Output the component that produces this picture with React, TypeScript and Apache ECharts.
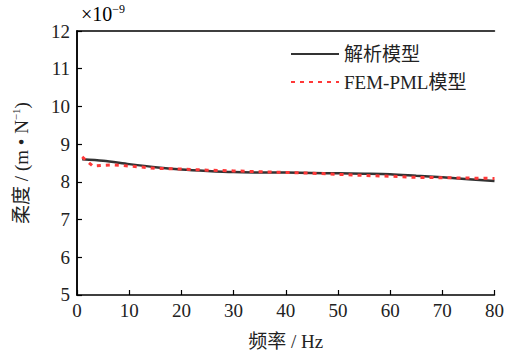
import React, { useEffect, useRef } from "react";
import * as echarts from "echarts";

const analyticX = [1, 5, 10, 15, 20, 25, 30, 35, 40, 45, 50, 55, 60, 65, 70, 75, 80];
const analyticY = [8.6, 8.56, 8.47, 8.39, 8.33, 8.29, 8.26, 8.25, 8.245, 8.235, 8.225, 8.215, 8.2, 8.16, 8.12, 8.07, 8.02];
const femX = [1, 3, 5, 7, 10, 15, 20, 25, 30, 35, 40, 45, 50, 55, 60, 65, 70, 75, 80];
const femY = [8.66, 8.42, 8.44, 8.45, 8.42, 8.36, 8.34, 8.31, 8.29, 8.27, 8.25, 8.23, 8.2, 8.17, 8.15, 8.12, 8.11, 8.1, 8.09];
const seriesNames = ["解析模型", "FEM-PML模型"];

const FONT = "Liberation Serif, Times New Roman, Noto Sans CJK SC, serif";

export default function App() {
  const ref = useRef<HTMLDivElement>(null);
  useEffect(() => {
    if (!ref.current) return;
    const chart = echarts.init(ref.current, undefined, { renderer: "svg" });
    const axisLine = { show: true, lineStyle: { color: "#000", width: 1.5 } };
    chart.setOption({
      animation: false,
      backgroundColor: "#fff",
      grid: { left: 77, right: 12, top: 31, bottom: 60, containLabel: false },
      legend: {
        orient: "vertical",
        left: 290,
        top: 44,
        padding: 0,
        itemWidth: 48,
        itemHeight: 14,
        itemGap: 8,
        data: seriesNames,
        itemStyle: { opacity: 0 },
        textStyle: { fontFamily: FONT, fontSize: 19, color: "#222", lineHeight: 20 },
      },
      graphic: [
        {
          type: "text",
          left: 81,
          top: 3,
          style: {
            text: "{a|×10}{b|−9}",
            rich: {
              a: { fontFamily: FONT, fontSize: 20, color: "#222", lineHeight: 22 },
              b: { fontFamily: FONT, fontSize: 12, color: "#222", verticalAlign: "top", lineHeight: 22 },
            },
          },
        },
      ],
      xAxis: [
        {
          type: "value",
          min: 0,
          max: 80,
          interval: 10,
          name: "频率 / Hz",
          nameLocation: "middle",
          nameGap: 37,
          nameTextStyle: { fontFamily: FONT, fontSize: 19, color: "#222" },
          axisLine,
          axisTick: { show: true, inside: true, length: 5, lineStyle: { color: "#000", width: 1.2 } },
          axisLabel: { fontFamily: FONT, fontSize: 19, color: "#222", margin: 6 },
          splitLine: { show: false },
        },
        {
          type: "value",
          position: "top",
          min: 0,
          max: 80,
          axisLine,
          axisTick: { show: false },
          axisLabel: { show: false },
          splitLine: { show: false },
        },
      ],
      yAxis: [
        {
          type: "value",
          min: 5,
          max: 12,
          interval: 1,
          name: "{n|柔度 / (m • N}{s|−1}{n|)}",
          nameLocation: "middle",
          nameRotate: 90,
          nameGap: 45,
          nameTextStyle: {
            rich: {
              n: { fontFamily: FONT, fontSize: 19, color: "#222", lineHeight: 22 },
              s: { fontFamily: FONT, fontSize: 11, color: "#222", verticalAlign: "top", lineHeight: 22 },
            },
          },
          axisLine,
          axisTick: { show: true, inside: true, length: 5, lineStyle: { color: "#000", width: 1.2 } },
          axisLabel: { fontFamily: FONT, fontSize: 19, color: "#222", margin: 7 },
          splitLine: { show: false },
        },
        {
          type: "value",
          position: "right",
          min: 5,
          max: 12,
          axisLine,
          axisTick: { show: false },
          axisLabel: { show: false },
          splitLine: { show: false },
        },
      ],
      series: [
        {
          name: seriesNames[0],
          type: "line",
          data: analyticX.map((x, i) => [x, analyticY[i]]),
          symbol: "none",
          smooth: 0.3,
          lineStyle: { color: "#333", width: 2.5 },
          itemStyle: { color: "#333" },
          z: 2,
        },
        {
          name: seriesNames[1],
          type: "line",
          data: femX.map((x, i) => [x, femY[i]]),
          symbol: "none",
          lineStyle: { color: "#ff3838", width: 3, type: [4, 5] },
          itemStyle: { color: "#ff3838" },
          z: 3,
        },
      ],
    });
    return () => chart.dispose();
  }, []);
  return (
    <div
      ref={ref}
      style={{ width: 507, height: 356, position: "fixed", left: 0, top: 0 }}
    />
  );
}
